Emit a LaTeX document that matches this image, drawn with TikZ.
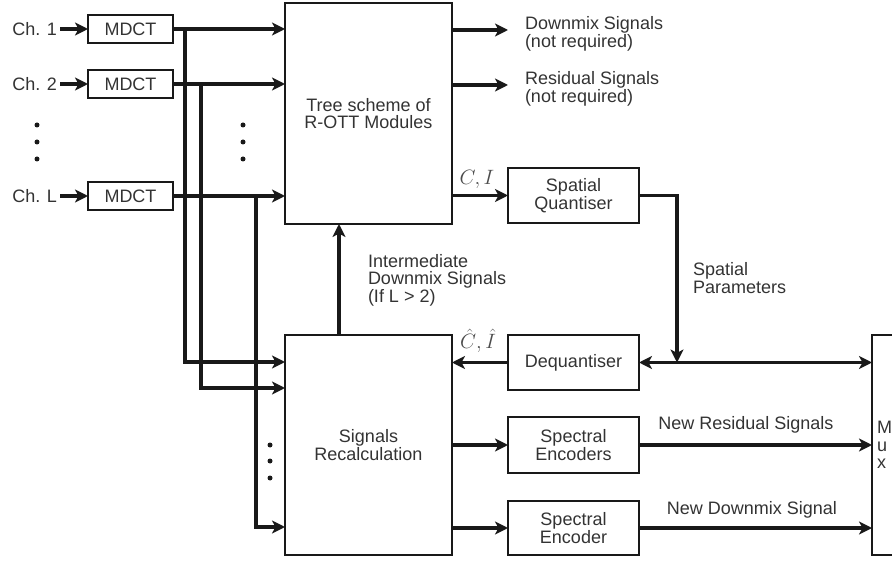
\documentclass[tikz,border=0pt]{standalone}
\usepackage{fontspec}
\setmainfont{Liberation Sans}
\usetikzlibrary{arrows.meta,calc}
\begin{document}
\begin{tikzpicture}[x=1pt,y=-1pt,
  every node/.style={inner sep=0pt, outer sep=0pt, font=\fontsize{18}{17.5}\selectfont, text=black!80},
  blk/.style={draw=black!90, line width=2.9pt, align=center},
  wire/.style={draw=black!90, line width=3.3pt},
  arr/.style={wire, -{Stealth[length=13pt,width=13pt,inset=3.5pt]}},
  darr/.style={wire, {Stealth[length=13pt,width=13pt,inset=3.5pt]}-{Stealth[length=13pt,width=13pt,inset=3.5pt]}},
  lbl/.style={align=left, anchor=west},
  mlbl/.style={font=\fontsize{21}{21}\selectfont, text=black!70},
  dot/.style={circle, fill=black!90, minimum size=5pt}
]
\clip (0,0) rectangle (892,561);
% blocks
\node[blk, minimum width=85pt, minimum height=28pt] (m1) at (130.5,29) {MDCT};
\node[blk, minimum width=85pt, minimum height=28pt] (m2) at (130.5,84) {MDCT};
\node[blk, minimum width=85pt, minimum height=28pt] (mL) at (130.5,196) {MDCT};
\node[blk, minimum width=167pt, minimum height=221pt] (tree) at (368.5,113.5) {Tree scheme of\\R-OTT Modules};
\node[blk, minimum width=167pt, minimum height=220pt] (recalc) at (368.5,445) {Signals\\Recalculation};
\node[blk, minimum width=131pt, minimum height=55pt] (sq) at (573.5,195.5) {Spatial\\Quantiser};
\node[blk, minimum width=131pt, minimum height=55pt] (deq) at (573.5,362.5) {Dequantiser};
\node[blk, minimum width=131pt, minimum height=56pt] (se1) at (573.5,445) {Spectral\\Encoders};
\node[blk, minimum width=131pt, minimum height=54pt] (se2) at (573.5,528) {Spectral\\Encoder};
\node[blk, minimum width=60pt, minimum height=220pt] (mux) at (902,445) {};
\node[lbl] (muxt) at (877,445) {M\\u\\x};
% channel labels
\node[anchor=east] (c1) at (57,29) {Ch. 1};
\node[anchor=east] (c2) at (57,84) {Ch. 2};
\node[anchor=east] (cL) at (57,196) {Ch. L};
\draw[arr] ([xshift=3pt]c1.east) -- (m1.west);
\draw[arr] ([xshift=3pt]c2.east) -- (m2.west);
\draw[arr] ([xshift=3pt]cL.east) -- (mL.west);
% dots
\foreach \yy/\n in {125/a,142/b,159/c}{
  \node[dot] (dl\n) at (37,\yy) {};
  \node[dot] (dm\n) at (243,\yy) {};
}
\foreach \yy/\n in {445/a,461/b,478/c}{
  \node[dot] (dr\n) at (270,\yy) {};
}
% x levels
\coordinate (x185) at (185,0);
\coordinate (x201) at (201,0);
\coordinate (x256) at (256,0);
\coordinate (x339) at (339,0);
\coordinate (y362) at (0,362);
\coordinate (y388) at (0,388);
\coordinate (y527) at (0,527);
% MDCT -> tree
\draw[arr] (m1.east) -- (m1.east -| tree.west);
\draw[arr] (m2.east) -- (m2.east -| tree.west);
\draw[arr] (mL.east) -- (mL.east -| tree.west);
% branches -> recalc
\coordinate (b1) at (m1.east -| x185);
\coordinate (b2) at (m2.east -| x201);
\coordinate (bL) at (mL.east -| x256);
\draw[arr] (b1) |- (recalc.west |- y362);
\draw[arr] (b2) |- (recalc.west |- y388);
\draw[arr] (bL) |- (recalc.west |- y527);
% recalc -> tree
\draw[arr] (recalc.north -| x339) -- (tree.south -| x339);
% tree outputs
\coordinate (o1) at (508,30);
\coordinate (o2) at (508,85);
\draw[arr] (tree.east |- o1) -- (o1);
\draw[arr] (tree.east |- o2) -- (o2);
\draw[arr] (tree.east |- sq.west) -- (sq.west);
% quantiser path
\coordinate (qd) at (677,362.5);
\draw[arr] (sq.east) -| (qd);
\draw[darr] (deq.east) -- (deq.east -| mux.west);
\draw[arr] (deq.west) -- (deq.west -| recalc.east);
% encoders
\draw[arr] (recalc.east |- se1.west) -- (se1.west);
\draw[arr] (recalc.east |- se2.west) -- (se2.west);
\draw[arr] (se1.east) -- (se1.east -| mux.west);
\draw[arr] (se2.east) -- (se2.east -| mux.west);
% labels
\node[lbl] (l1) at (525,34) {Downmix Signals\\(not required)};
\node[lbl] (l2) at (525,89) {Residual Signals\\(not required)};
\node[mlbl] (ci) at (477,179) {$C,I$};
\node[mlbl] (chi) at (478,341) {$\hat{C},\hat{I}$};
\node[lbl] (l3) at (368,280) {Intermediate\\Downmix Signals\\(If L > 2)};
\node[lbl] (l4) at (693,278) {Spatial\\Parameters};
\node (l5) at (746,425) {New Residual Signals};
\node (l6) at (752,510) {New Downmix Signal};
\end{tikzpicture}
\end{document}
